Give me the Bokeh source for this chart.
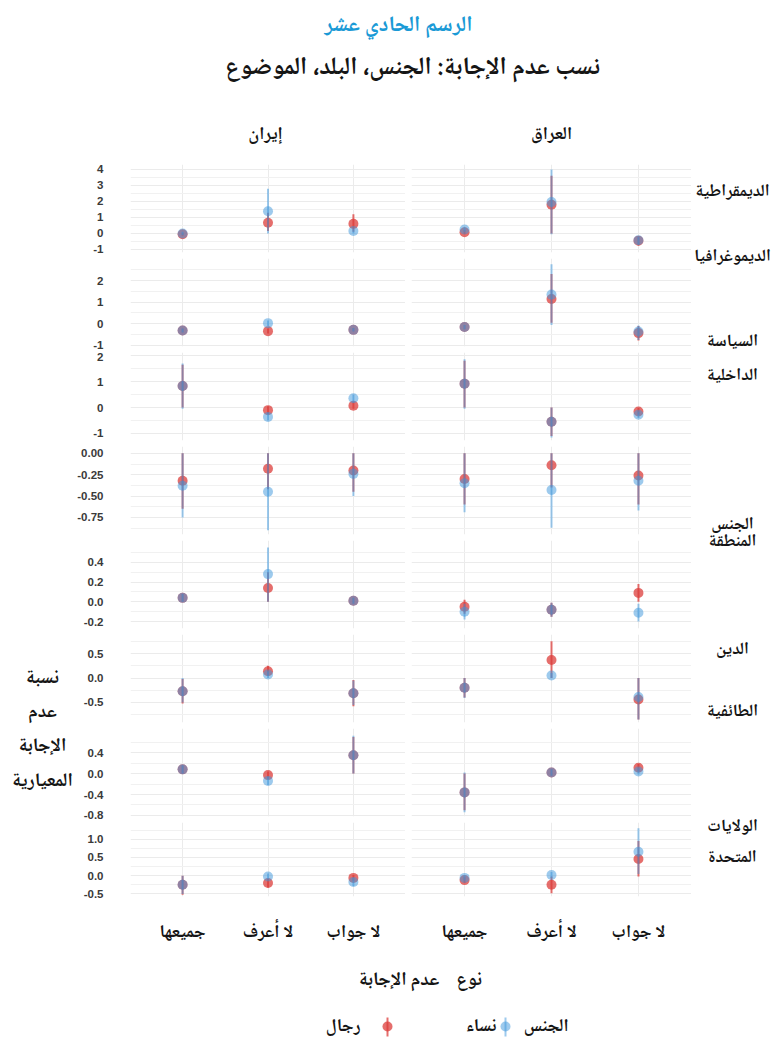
from bokeh.plotting import figure
from bokeh.layouts import column, row
from bokeh.models import FactorRange, Range1d, FixedTicker, NumeralTickFormatter, ColumnDataSource
from bokeh.core.properties import value
from bokeh.embed import file_html
from bokeh.resources import INLINE

# ---------------- data ----------------
categories = ["جميعها", "لا أعرف", "لا جواب"]
countries = ["إيران", "العراق"]
topics = ["الديمقراطية", "الديموغرافيا", "السياسة الداخلية", "الجنس",
          "المنطقة", "الدين", "الطائفية", "الولايات المتحدة"]
genders = ["نساء", "رجال"]

iran_women = [[0.00, 1.39, 0.15], [-0.31, 0.03, -0.28], [0.83, -0.36, 0.36], [-0.38, -0.45, -0.24],
              [0.04, 0.28, 0.01], [-0.27, 0.07, -0.31], [0.08, -0.14, 0.35], [-0.25, -0.02, -0.17]]
iran_women_lo = [[-0.10, 0.00, 0.00], [-0.40, -0.10, -0.36], [-0.05, -0.50, 0.20], [-0.75, -0.90, -0.50],
                 [0.00, 0.00, -0.02], [-0.50, 0.00, -0.55], [0.00, -0.22, 0.00], [-0.50, -0.10, -0.28]]
iran_women_hi = [[0.10, 2.80, 0.30], [-0.22, 0.15, -0.20], [1.70, -0.20, 0.50], [0.00, 0.00, 0.00],
                 [0.08, 0.55, 0.04], [0.00, 0.14, -0.05], [0.16, -0.06, 0.72], [0.00, 0.06, -0.06]]

iran_men = [[-0.05, 0.67, 0.60], [-0.31, -0.34, -0.28], [0.83, -0.10, 0.07], [-0.32, -0.18, -0.20],
            [0.04, 0.14, 0.01], [-0.27, 0.14, -0.31], [0.08, -0.03, 0.35], [-0.25, -0.20, -0.06]]
iran_men_lo = [[-0.15, 0.15, 0.10], [-0.40, -0.45, -0.36], [0.00, -0.25, -0.05], [-0.65, -0.42, -0.45],
               [0.00, 0.00, -0.02], [-0.52, 0.05, -0.58], [0.00, -0.10, 0.00], [-0.52, -0.32, -0.14]]
iran_men_hi = [[0.05, 1.30, 1.20], [-0.22, -0.22, -0.20], [1.65, 0.05, 0.20], [0.00, 0.00, 0.00],
               [0.08, 0.30, 0.04], [-0.02, 0.25, -0.04], [0.16, 0.04, 0.70], [0.00, -0.08, 0.02]]

iraq_women = [[0.25, 1.96, -0.42], [-0.15, 1.35, -0.36], [0.92, -0.55, -0.28], [-0.35, -0.43, -0.32],
              [-0.10, -0.08, -0.11], [-0.20, 0.05, -0.39], [-0.36, 0.02, 0.04], [-0.06, 0.02, 0.66]]
iraq_women_lo = [[0.10, -0.05, -0.70], [-0.25, -0.05, -0.75], [-0.05, -1.15, -0.40], [-0.69, -0.87, -0.67],
                 [-0.18, -0.15, -0.20], [-0.41, 0.00, -0.85], [-0.74, -0.04, -0.02], [-0.14, -0.06, 0.05]]
iraq_women_hi = [[0.40, 4.00, -0.20], [-0.05, 2.75, -0.08], [1.86, 0.00, -0.15], [0.00, 0.00, 0.00],
                 [-0.02, -0.01, -0.02], [0.00, 0.10, 0.00], [0.02, 0.08, 0.10], [0.02, 0.10, 1.30]]

iraq_men = [[0.08, 1.79, -0.45], [-0.15, 1.15, -0.43], [0.92, -0.55, -0.15], [-0.30, -0.14, -0.26],
            [-0.05, -0.08, 0.09], [-0.20, 0.37, -0.44], [-0.36, 0.02, 0.11], [-0.12, -0.25, 0.46]]
iraq_men_lo = [[-0.05, 0.00, -0.75], [-0.25, 0.05, -0.77], [0.00, -1.10, -0.28], [-0.60, -0.40, -0.60],
               [-0.12, -0.15, 0.00], [-0.40, 0.00, -0.85], [-0.70, -0.04, 0.04], [-0.20, -0.48, -0.02]]
iraq_men_hi = [[0.22, 3.60, -0.20], [-0.05, 2.30, -0.10], [1.80, 0.00, -0.02], [0.00, 0.00, 0.00],
               [0.02, -0.01, 0.18], [0.00, 0.75, 0.00], [0.00, 0.08, 0.18], [-0.04, -0.02, 0.95]]

# y-axis limits, ticks and formats per row (free scales)
row_limits = [(-1.19, 4.31), (-1.05, 3.02), (-1.27, 2.12), (-0.95, 0.08),
              (-0.27, 0.62), (-0.91, 0.89), (-0.82, 0.86), (-0.57, 1.46)]
row_ticks = [[-1, 0, 1, 2, 3, 4], [-1, 0, 1, 2], [-1, 0, 1, 2], [-0.75, -0.5, -0.25, 0],
             [-0.2, 0, 0.2, 0.4], [-0.5, 0, 0.5], [-0.8, -0.4, 0, 0.4], [-0.5, 0, 0.5, 1.0]]
row_minor = [[-0.5, 0.5, 1.5, 2.5, 3.5], [-0.5, 0.5, 1.5, 2.5], [-0.5, 0.5, 1.5],
             [-0.875, -0.625, -0.375, -0.125], [-0.1, 0.1, 0.3, 0.5],
             [-0.75, -0.25, 0.25, 0.75], [-0.6, -0.2, 0.2, 0.6], [-0.25, 0.25, 0.75, 1.25]]
row_formats = ["0", "0", "0", "0.00", "0.0", "0.0", "0.0", "0.0"]

title_text = "الرسم الحادي عشر"
subtitle_text = "نسب عدم الإجابة: الجنس، البلد، الموضوع"
y_title = "نسبة عدم الإجابة المعيارية"
x_title = "نوع\u00a0\u00a0\u00a0\u00a0عدم الإجابة"
legend_title = "الجنس"

# ---------------- styles ----------------
AR_NAME = "'Noto Naskh Arabic', 'Noto Sans Arabic', 'DejaVu Sans', sans-serif"
AR = value(AR_NAME)
NUM_NAME = "Liberation Sans"
RED = "#dc3e3b"
RED_A = 0.75
BLUE = "#3c96dc"
BLUE_A = 0.5
GRID = "#ebebeb"
INK = "#151515"

W_YT, W_IRAN, W_IRAQ, W_STRIP = 74, 331, 286, 84
ROW_H, LAST_H = 94, 128
BODY_H = 7 * ROW_H + LAST_H
HEADER_H, FOOTER_H = 164, 90
FULL_W = W_YT + W_IRAN + W_IRAQ + W_STRIP

series = [
    [(iran_men, iran_men_lo, iran_men_hi, RED, RED_A), (iran_women, iran_women_lo, iran_women_hi, BLUE, BLUE_A)],
    [(iraq_men, iraq_men_lo, iraq_men_hi, RED, RED_A), (iraq_women, iraq_women_lo, iraq_women_hi, BLUE, BLUE_A)],
]

xr = FactorRange(factors=categories, range_padding=0.11, range_padding_units="absolute")


def canvas(w, h):
    p = figure(width=w, height=h, x_range=Range1d(0, w), y_range=Range1d(h, 0),
               output_backend="svg", toolbar_location=None,
               x_axis_location=None, y_axis_location=None, min_border=0)
    p.grid.visible = False
    p.outline_line_color = None
    return p


def ar_text(p, xs, ys, texts, size, align="center", bold=True, color=INK):
    p.text(x=xs, y=ys, text=texts, text_font=AR, text_font_size=value(size),
           text_font_style="bold" if bold else "normal", text_color=color,
           text_align=align, text_baseline="middle")


def panel(r, c):
    left = c == 0
    bottom = r == 7
    p = figure(width=W_IRAN if left else W_IRAQ, height=LAST_H if bottom else ROW_H,
               x_range=xr, y_range=Range1d(*row_limits[r]),
               output_backend="svg", toolbar_location=None,
               x_axis_location="below" if bottom else None,
               y_axis_location="left" if left else None,
               min_border_left=51 if left else 6, min_border_right=0,
               min_border_top=0, min_border_bottom=40 if bottom else 6)
    p.outline_line_color = None
    ticker = FixedTicker(ticks=row_ticks[r], minor_ticks=row_minor[r])
    p.ygrid.ticker = ticker
    p.ygrid.grid_line_color = GRID
    p.ygrid.grid_line_width = 1
    p.ygrid.minor_grid_line_color = "#f1f1f1"
    p.ygrid.minor_grid_line_width = 1
    p.xgrid.grid_line_color = GRID
    p.xgrid.grid_line_width = 1
    if left:
        ax = p.yaxis[0]
        ax.ticker = ticker
        ax.formatter = NumeralTickFormatter(format=row_formats[r])
        ax.axis_line_color = None
        ax.major_tick_line_color = None
        ax.minor_tick_line_color = None
        ax.major_label_standoff = 21
        ax.major_label_text_font = NUM_NAME
        ax.major_label_text_font_style = "bold"
        ax.major_label_text_font_size = "11.5px"
        ax.major_label_text_color = "#3a3a3a"
    if bottom:
        ax = p.xaxis[0]
        ax.axis_line_color = None
        ax.major_tick_line_color = None
        ax.minor_tick_line_color = None
        ax.major_label_standoff = 15
        ax.major_label_text_font = AR_NAME
        ax.major_label_text_font_style = "bold"
        ax.major_label_text_font_size = "18px"
        ax.major_label_text_color = INK
    for mean, lo, hi, color, alpha in series[c]:
        src = ColumnDataSource(dict(x=categories, y=mean[r], lo=lo[r], hi=hi[r]))
        p.segment(x0="x", y0="lo", x1="x", y1="hi", source=src,
                  line_color=color, line_alpha=alpha, line_width=2)
        p.scatter(x="x", y="y", source=src, size=10, marker="circle",
                  fill_color=color, fill_alpha=alpha, line_color=None)
    return p


# ---------------- header ----------------
header = canvas(FULL_W, HEADER_H)
ar_text(header, [398], [25], [title_text], "22px", color="#1a9ad6")
ar_text(header, [412], [68], [subtitle_text], "25px")
ar_text(header, [W_YT + 51 + 140, W_YT + W_IRAN + 6 + 140], [134, 134], countries, "18px")

# ---------------- body ----------------
ytitle_fig = canvas(W_YT, BODY_H)
yt_lines = y_title.split()
ar_text(ytitle_fig, [42] * len(yt_lines), [514, 548, 582, 617], yt_lines, "19px")

strip = canvas(W_STRIP, BODY_H)
strip_lines = [w for t in topics for w in t.split()]
strip_y = [28, 93, 178, 212, 361, 378, 486, 548, 663, 694]
ar_text(strip, [41] * len(strip_lines), strip_y, strip_lines, "17px")

iran_col = column(*[panel(r, 0) for r in range(8)])
iraq_col = column(*[panel(r, 1) for r in range(8)])
body = row(ytitle_fig, iran_col, iraq_col, strip)

# ---------------- footer ----------------
footer = canvas(FULL_W, FOOTER_H)
ar_text(footer, [420], [30], [x_title], "19px")
ar_text(footer, [568], [76], [legend_title], "18px", align="right")
leg_x = [387, 505]
leg_colors = [RED, BLUE]
leg_alpha = [RED_A, BLUE_A]
footer.segment(x0=leg_x, y0=[67, 67], x1=leg_x, y1=[86, 86], line_color=leg_colors,
               line_alpha=leg_alpha, line_width=2)
footer.scatter(x=leg_x, y=[76, 76], size=10, fill_color=leg_colors, fill_alpha=leg_alpha,
               line_color=None)
ar_text(footer, [360, 496], [76, 76], [genders[1], genders[0]], "18px", align="right")

page = column(header, body, footer)

open("out.html", "w").write(file_html(page, INLINE))
